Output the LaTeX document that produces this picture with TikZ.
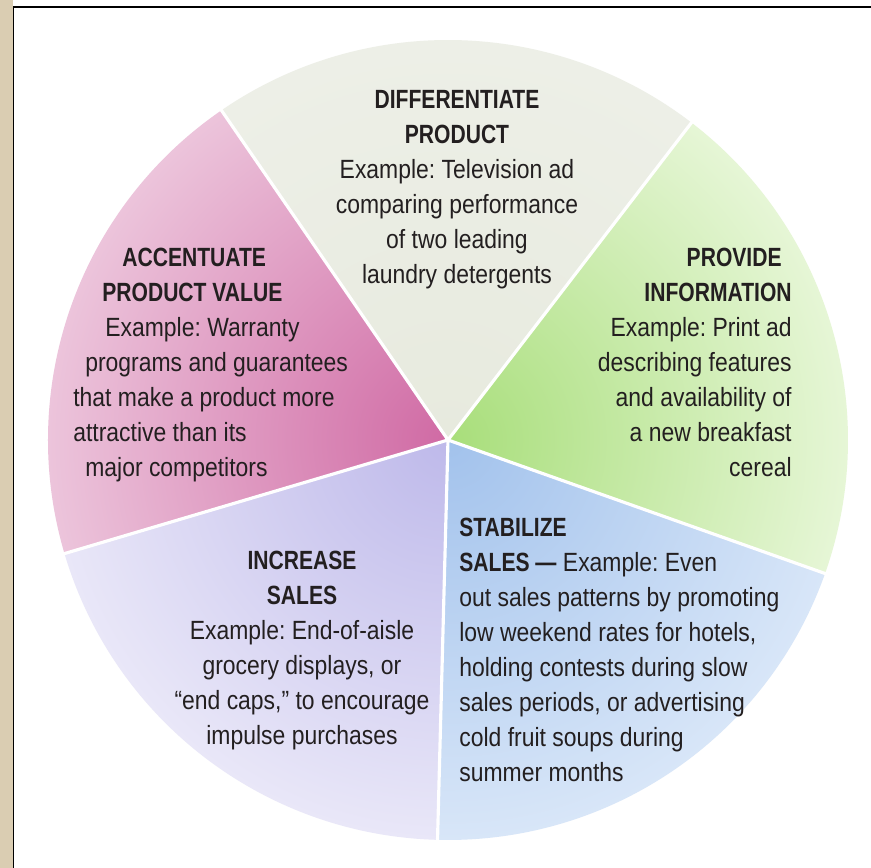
\documentclass[tikz,border=0pt]{standalone}
\usepackage{fontspec}
\setmainfont{Liberation Sans}[FakeStretch=0.87, BoldFeatures={FakeStretch=0.8}]
\usepackage{xcolor}
\usetikzlibrary{positioning}
\definecolor{ink}{RGB}{35,31,32}
\definecolor{paper}{RGB}{218,205,178}
\definecolor{sageIn}{RGB}{231,234,222}
\definecolor{sageOut}{RGB}{237,239,231}
\definecolor{pinkIn}{RGB}{208,106,164}
\definecolor{pinkOut}{RGB}{236,196,219}
\definecolor{lilacIn}{RGB}{190,185,234}
\definecolor{lilacOut}{RGB}{233,231,248}
\definecolor{blueIn}{RGB}{162,194,236}
\definecolor{blueOut}{RGB}{216,230,248}
\definecolor{greenIn}{RGB}{168,222,122}
\definecolor{greenOut}{RGB}{230,246,214}

\tikzset{
  wedgetext/.style={font=\fontsize{15}{19.9}\selectfont\frenchspacing, text=ink, inner sep=0pt},
}

\begin{document}
\begin{tikzpicture}
  \useasboundingbox (-8.96,-8.56) rectangle (8.46,8.8);

  % paper edge and panel frame
  \fill[paper] (-8.96,-8.56) rectangle (-8.7,8.8);
  \fill[white] (-8.7,-8.56) rectangle (8.46,8.8);
  \draw[line width=1.1pt] (-8.69,-8.56) -- (-8.69,8.66) -- (8.46,8.66);

  % Wedges
  \foreach \start/\cin/\cout in {52.5/sageIn/sageOut, 124.5/pinkIn/pinkOut,
      196.5/lilacIn/lilacOut, 268.5/blueIn/blueOut, 340.5/greenIn/greenOut}{
    \begin{scope}
      \clip (0,0) -- (\start:8) arc[start angle=\start, delta angle=72, radius=8] -- cycle;
      \shade[inner color=\cin, outer color=\cout] (0,0) circle (8);
    \end{scope}
  }
  % white gaps
  \foreach \start in {52.5,124.5,196.5,268.5,340.5}
    \draw[white, line width=1.8pt] (0,0) -- (\start:8.05);

  % Labels
  \node[wedgetext, align=center, anchor=north] (differentiate) at (0.18,7.0)
    {\textbf{DIFFERENTIATE}\\\textbf{PRODUCT}\\Example: Television ad\\comparing performance\\of two leading\\laundry detergents};

  \node[wedgetext, align=left, anchor=north west] (accentuate) at (-7.5,3.84)
    {\hspace*{0.98cm}\textbf{ACCENTUATE}\\\hspace*{0.58cm}\textbf{PRODUCT VALUE}\\\hspace*{0.64cm}Example: Warranty\\\hspace*{0.24cm}programs and guarantees\\that make a product more\\attractive than its\\\hspace*{0.24cm}major competitors};

  \node[wedgetext, align=right, anchor=north east] (provide) at (6.88,3.84)
    {\textbf{PROVIDE}\hspace*{0.2cm}\\\textbf{INFORMATION}\hspace*{0.14cm}\\Example: Print ad\hspace*{0.1cm}\\describing features\\and availability of\\a new breakfast\hspace*{0.28cm}\\cereal};

  \node[wedgetext, align=center, anchor=north] (increase) at (-2.92,-2.22)
    {\textbf{INCREASE}\\\textbf{SALES}\\Example: End-of-aisle\\grocery displays, or\\“end caps,” to encourage\\impulse purchases};

  \node[wedgetext, align=left, anchor=north west] (stabilize) at (0.22,-1.56)
    {\textbf{STABILIZE}\\\textbf{SALES —} Example: Even\\out sales patterns by promoting\\low weekend rates for hotels,\\holding contests during slow\\sales periods, or advertising\\cold fruit soups during\\summer months};
\end{tikzpicture}
\end{document}
